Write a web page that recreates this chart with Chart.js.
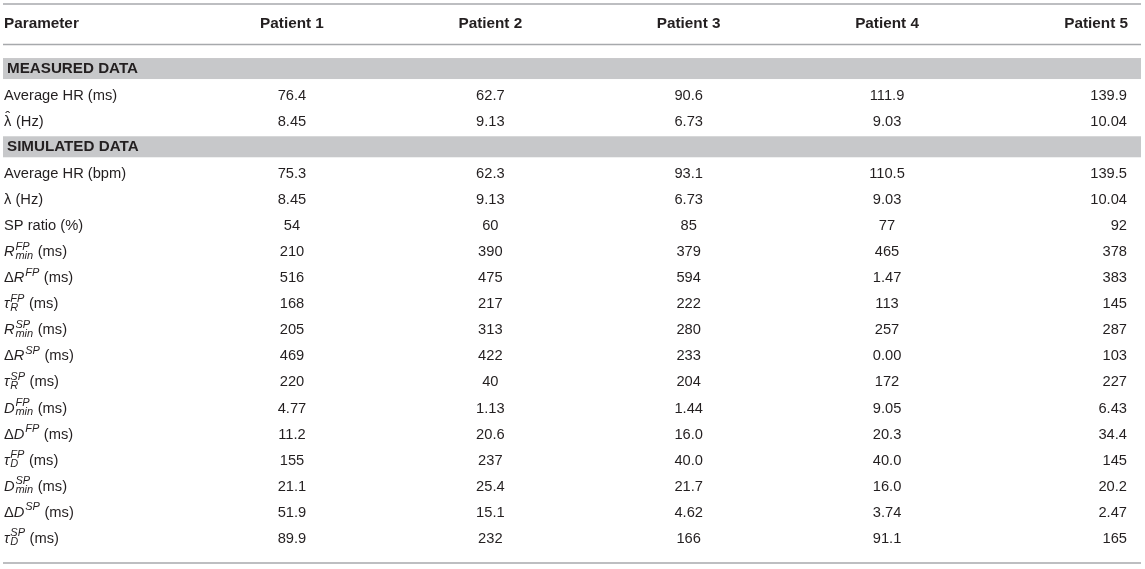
<!DOCTYPE html>
<html>
<head>
<meta charset="utf-8">
<script src="https://cdn.jsdelivr.net/npm/chart.js@4.4.1/dist/chart.umd.min.js"></script>
<style>
  html, body { margin: 0; padding: 0; background: #fff; }
  #wrap { width: 1145px; height: 569px; position: relative; }
</style>
</head>
<body>
<div id="wrap"><canvas id="chart"></canvas></div>
<script>
const columnHeaders = ["Parameter", "Patient 1", "Patient 2", "Patient 3", "Patient 4", "Patient 5"];

// row labels: plain text, section bands, or symbol with sub/superscript
const rowLabels = [
  { text: "MEASURED DATA", band: true },
  { text: "Average HR (ms)" },
  { base: "λ", hat: true, upright: true, unit: " (Hz)" },
  { text: "SIMULATED DATA", band: true },
  { text: "Average HR (bpm)" },
  { text: "λ (Hz)" },
  { text: "SP ratio (%)" },
  { base: "R", sub: "min", sup: "FP", unit: " (ms)" },
  { pre: "Δ", base: "R", sup: "FP", unit: " (ms)" },
  { base: "τ", sub: "R", sup: "FP", unit: " (ms)" },
  { base: "R", sub: "min", sup: "SP", unit: " (ms)" },
  { pre: "Δ", base: "R", sup: "SP", unit: " (ms)" },
  { base: "τ", sub: "R", sup: "SP", unit: " (ms)" },
  { base: "D", sub: "min", sup: "FP", unit: " (ms)" },
  { pre: "Δ", base: "D", sup: "FP", unit: " (ms)" },
  { base: "τ", sub: "D", sup: "FP", unit: " (ms)" },
  { base: "D", sub: "min", sup: "SP", unit: " (ms)" },
  { pre: "Δ", base: "D", sup: "SP", unit: " (ms)" },
  { base: "τ", sub: "D", sup: "SP", unit: " (ms)" }
];

const patient1 = [null, "76.4", "8.45", null, "75.3", "8.45", "54", "210", "516", "168", "205", "469", "220", "4.77", "11.2", "155", "21.1", "51.9", "89.9"];
const patient2 = [null, "62.7", "9.13", null, "62.3", "9.13", "60", "390", "475", "217", "313", "422", "40", "1.13", "20.6", "237", "25.4", "15.1", "232"];
const patient3 = [null, "90.6", "6.73", null, "93.1", "6.73", "85", "379", "594", "222", "280", "233", "204", "1.44", "16.0", "40.0", "21.7", "4.62", "166"];
const patient4 = [null, "111.9", "9.03", null, "110.5", "9.03", "77", "465", "1.47", "113", "257", "0.00", "172", "9.05", "20.3", "40.0", "16.0", "3.74", "91.1"];
const patient5 = [null, "139.9", "10.04", null, "139.5", "10.04", "92", "378", "383", "145", "287", "103", "227", "6.43", "34.4", "145", "20.2", "2.47", "165"];

const patients = [patient1, patient2, patient3, patient4, patient5];
const rowKeys = rowLabels.map((_, i) => "row" + i);

const FAMILY = "'Liberation Sans', Arial, sans-serif";
const FONT = "14.7px " + FAMILY;
const ITALIC = "italic 14.7px " + FAMILY;
const SMALL_ITALIC = "italic 11px " + FAMILY;
const BOLD_HEAD = "bold 15.3px " + FAMILY;
const BOLD_BAND = "bold 15.2px " + FAMILY;
const INK = "#231f20";
const RULE = "#a7a9ac";
const BAND = "#c7c8ca";

function drawLabel(ctx, lab, x, y) {
  const base = y + 5;
  let cx = x;
  ctx.textAlign = "left";
  ctx.textBaseline = "alphabetic";
  if (lab.text) {
    ctx.font = FONT;
    ctx.fillText(lab.text, cx, base);
    return;
  }
  if (lab.pre) {
    ctx.font = FONT;
    ctx.fillText(lab.pre, cx, base);
    cx += ctx.measureText(lab.pre).width;
  }
  ctx.font = lab.upright ? FONT : ITALIC;
  ctx.fillText(lab.base, cx, base);
  const bw = ctx.measureText(lab.base).width;
  if (lab.hat) {
    ctx.textAlign = "center";
    ctx.fillText("ˆ", cx + bw / 2, base - 4);
    ctx.textAlign = "left";
  }
  cx += bw + (lab.upright ? 0 : 0.8);
  let w = 0;
  ctx.font = SMALL_ITALIC;
  if (lab.sup) {
    ctx.fillText(lab.sup, cx, base - 6.5);
    w = Math.max(w, ctx.measureText(lab.sup).width);
  }
  if (lab.sub) {
    ctx.fillText(lab.sub, cx, base + 2.5);
    w = Math.max(w, ctx.measureText(lab.sub).width);
  }
  cx += w + 0.5;
  ctx.font = FONT;
  ctx.fillText(lab.unit, cx, base);
}

const tablePlugin = {
  id: "tablePlugin",
  beforeDatasetsDraw(chart) {
    const { ctx, chartArea, scales } = chart;
    const y = scales.y;
    const left = chartArea.left - 1;
    const right = chartArea.right + 13;
    ctx.save();
    // section bands
    ctx.fillStyle = BAND;
    rowLabels.forEach((lab, i) => {
      if (!lab.band) return;
      const cy = y.getPixelForValue(i);
      ctx.fillRect(left, cy - 10.5, right - left, 21);
    });
    // rules
    ctx.strokeStyle = RULE;
    ctx.lineWidth = 1.6;
    [4, chartArea.top - 11, chart.height - 6].forEach(ly => {
      ctx.beginPath();
      ctx.moveTo(left, ly);
      ctx.lineTo(right, ly);
      ctx.stroke();
    });
    ctx.restore();
  },
  afterDatasetsDraw(chart) {
    const { ctx, chartArea, scales } = chart;
    const x = scales.x;
    const y = scales.y;
    const nCols = chart.data.datasets.length;
    ctx.save();
    ctx.fillStyle = INK;
    // header row
    ctx.font = BOLD_HEAD;
    ctx.textBaseline = "middle";
    columnHeaders.forEach((h, c) => {
      if (c === 0) {
        ctx.textAlign = "left";
        ctx.fillText(h, chartArea.left, 23.5);
      } else if (c === nCols) {
        ctx.textAlign = "right";
        ctx.fillText(h, chartArea.right, 23.5);
      } else {
        ctx.textAlign = "center";
        ctx.fillText(h, x.getPixelForValue(c), 23.5);
      }
    });
    // parameter column
    rowLabels.forEach((lab, i) => {
      const cy = y.getPixelForValue(i);
      if (lab.band) {
        ctx.font = BOLD_BAND;
        ctx.textAlign = "left";
        ctx.textBaseline = "middle";
        ctx.fillText(lab.text, chartArea.left + 3, cy + 0.5);
      } else {
        drawLabel(ctx, lab, chartArea.left, cy);
      }
    });
    // values
    ctx.font = FONT;
    ctx.textBaseline = "alphabetic";
    chart.data.datasets.forEach((ds, d) => {
      const meta = chart.getDatasetMeta(d);
      meta.data.forEach((el, j) => {
        const last = d === nCols - 1;
        ctx.textAlign = last ? "right" : "center";
        ctx.fillText(ds.data[j].text, last ? chartArea.right - 1 : el.x, el.y + 5);
      });
    });
    ctx.restore();
  }
};

const datasets = patients.map((vals, p) => ({
  label: columnHeaders[p + 1],
  data: vals
    .map((v, i) => (v === null ? null : { x: p + 1, y: rowKeys[i], text: v }))
    .filter(Boolean),
  pointRadius: 0,
  showLine: false
}));

new Chart(document.getElementById("chart"), {
  type: "scatter",
  data: { datasets },
  options: {
    responsive: true,
    maintainAspectRatio: false,
    animation: false,
    events: [],
    layout: { padding: { left: 4, right: 17, top: 55.5, bottom: 18 } },
    scales: {
      x: { type: "linear", min: -0.452, max: 5.215, display: false },
      y: { type: "category", labels: rowKeys, offset: true, display: false }
    },
    plugins: {
      legend: { display: false },
      tooltip: { enabled: false }
    }
  },
  plugins: [tablePlugin]
});
</script>
</body>
</html>
